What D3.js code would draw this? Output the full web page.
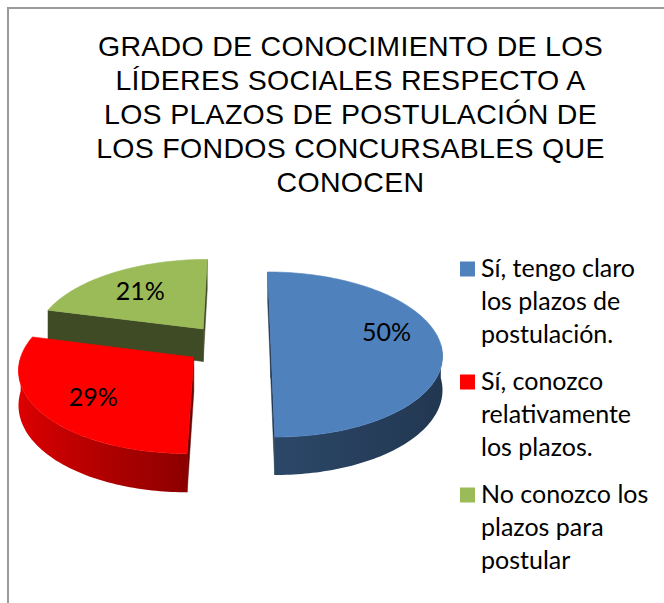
<!DOCTYPE html>
<html><head><meta charset="utf-8">
<script src="https://cdn.jsdelivr.net/npm/d3@7"></script>
<style>html,body{margin:0;padding:0;background:#fff;overflow:hidden}</style>
</head><body>
<svg id="chart" width="664" height="603"></svg>
<script>
// ---- data ----
const titleLines = ["GRADO DE CONOCIMIENTO DE LOS", "LÍDERES SOCIALES RESPECTO A", "LOS PLAZOS DE POSTULACIÓN DE", "LOS FONDOS CONCURSABLES QUE", "CONOCEN"];
const categories = [
  ["Sí, tengo claro", "los plazos de", "postulación."],
  ["Sí, conozco", "relativamente", "los plazos."],
  ["No conozco los", "plazos para", "postular"]
];
const values = [50, 29, 21];
const labels = ["50%", "29%", "21%"];

// ---- styles ----
const colors = ["#4f81bd", "#ff0000", "#9bbb59"];
const legendFont = "Lato, 'Open Sans', sans-serif";
const legendSize = 25;

const svg = d3.select("#chart");
svg.append("rect").attr("width", 664).attr("height", 603).attr("fill", "#fff");
svg.append("rect").attr("x", 8).attr("y", 8).attr("width", 720).attr("height", 680)
  .attr("fill", "none").attr("stroke", "#9a9a9a").attr("stroke-width", 2);

// ---- title ----
const title = svg.append("text").attr("text-anchor", "middle")
  .attr("font-family", "'Liberation Sans', Arial, sans-serif").attr("font-size", 28.5)
  .attr("letter-spacing", 0.3).attr("fill", "#000");
titleLines.forEach((l, i) => title.append("tspan").attr("x", 350.5).attr("y", 56 + i * 34).text(l));

// ---- 3D pie projection ----
const proj = {xc: 242, yc: 341.7, dx0: -13.7, dy0: 2.9, sx: 170, sy: 81, k: 0.12, h: 33.4};
const explode = 0.25;
function P(X, V, h) {
  const den = 1 - proj.k * V;
  return [proj.xc + (proj.dx0 + proj.sx * X) / den, proj.yc + (proj.dy0 + proj.sy * V + (h || 0)) / den];
}
const pie = d3.pie().value(d => d).sort(null);
const arcs = pie(values).map((a, i) => {
  const mid = (a.startAngle + a.endAngle) / 2;
  return Object.assign(a, {i, mid, ox: explode * Math.sin(mid), oV: -explode * Math.cos(mid)});
});
const line = d3.line();
const defs = svg.append("defs");
function shadeFactor(t) {
  const s = Math.sin(t);
  return s > 0 ? 0.55 - 0.13 * s : 0.55 - 0.33 * s;
}
function shade(c, f) { return d3.interpolateRgb("#000", c)(f); }
function rim(a, t, h) { return P(a.ox + Math.sin(t), a.oV - Math.cos(t), h); }
function sampleAngles(t0, t1) {
  const n = Math.max(2, Math.ceil((t1 - t0) / 0.02));
  return d3.range(n + 1).map(j => t0 + (t1 - t0) * j / n);
}
const camX = -proj.dx0 / proj.sx, camV = 1 / proj.k;

const gPie = svg.append("g");
arcs.slice().sort((a, b) => a.oV - b.oV).forEach(a => {
  const g = gPie.append("g");
  const c = colors[a.i];
  // radial walls
  [[a.startAngle, -1], [a.endAngle, 1]].forEach(([t, sgn]) => {
    const nx = sgn * Math.cos(t), nv = sgn * Math.sin(t);
    const px = a.ox + 0.5 * Math.sin(t), pv = a.oV - 0.5 * Math.cos(t);
    if (nx * (camX - px) + nv * (camV - pv) > 0) {
      const pts = [P(a.ox, a.oV, 0), rim(a, t, 0), rim(a, t, proj.h), P(a.ox, a.oV, proj.h)];
      g.append("path").attr("d", line(pts) + "Z").attr("fill", shade(c, 0.4)).attr("stroke", shade(c, 0.4)).attr("stroke-width", 0.5);
    }
  });
  // outer wall (front facing part)
  const w0 = Math.max(a.startAngle, Math.PI / 2), w1 = Math.min(a.endAngle, 3 * Math.PI / 2);
  if (w1 > w0) {
    const ts = sampleAngles(w0, w1);
    const top = ts.map(t => rim(a, t, 0));
    const bot = ts.map(t => rim(a, t, proj.h)).reverse();
    const xs = top.map(p => p[0]);
    const xmin = d3.min(xs), xmax = d3.max(xs);
    const gid = "wall" + a.i;
    const grad = defs.append("linearGradient").attr("id", gid).attr("gradientUnits", "userSpaceOnUse")
      .attr("x1", xmin).attr("x2", xmax).attr("y1", 0).attr("y2", 0);
    const stops = ts.map((t, j) => ({o: (xs[j] - xmin) / (xmax - xmin), col: shade(c, shadeFactor(t))}))
      .sort((p, q) => p.o - q.o);
    stops.filter((s, j) => j % 4 === 0 || j === stops.length - 1)
      .forEach(s => grad.append("stop").attr("offset", s.o).attr("stop-color", s.col));
    g.append("path").attr("d", line(top.concat(bot)) + "Z").attr("fill", `url(#${gid})`);
  }
  // top face
  const ts = sampleAngles(a.startAngle, a.endAngle);
  const pts = [P(a.ox, a.oV, 0)].concat(ts.map(t => rim(a, t, 0)));
  g.append("path").attr("d", line(pts) + "Z").attr("fill", c).attr("stroke", c).attr("stroke-width", 0.6);
});

// data labels
arcs.forEach(a => {
  const r = 0.68;
  const p = P(a.ox + r * Math.sin(a.mid), a.oV - r * Math.cos(a.mid), 0);
  svg.append("text").attr("x", p[0]).attr("y", p[1] + 5 - 9 * Math.sin(a.mid)).attr("text-anchor", "middle")
    .attr("font-family", legendFont).attr("font-size", legendSize).attr("fill", "#000").text(labels[a.i]);
});

// ---- legend ----
const legend = svg.append("g");
let base = 277;
categories.forEach((lines, i) => {
  legend.append("rect").attr("x", 460).attr("y", base - 15.5).attr("width", 15).attr("height", 15).attr("fill", colors[i]);
  const t = legend.append("text").attr("font-family", legendFont).attr("font-size", legendSize).attr("fill", "#000");
  lines.forEach((l, j) => t.append("tspan").attr("x", 481).attr("y", base + j * 33).text(l));
  base += lines.length * 33 + 14;
});
</script>
</body></html>
